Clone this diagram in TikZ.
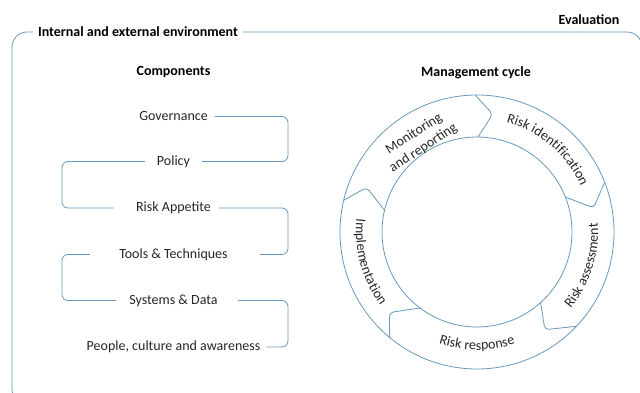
\documentclass[tikz,border=0pt]{standalone}
\usepackage{fontspec}
\setmainfont{Carlito}
\usetikzlibrary{decorations.text}
\definecolor{ringblue}{RGB}{104,152,190}
\definecolor{inktext}{RGB}{38,38,38}
\newcommand{\ringfont}{\fontsize{14}{17}\selectfont\color{inktext}}

\begin{document}
\begin{tikzpicture}[x=1pt,y=1pt,
  every node/.style={font=\fontsize{14}{17}\selectfont,text=inktext},
  item/.style={text height=10pt,text depth=3pt,inner sep=0pt},
  head/.style={font=\fontsize{14}{17}\selectfont\bfseries,text=black},
  link/.style={draw=ringblue,line width=0.8pt,rounded corners=6pt},
  ring/.style={draw=ringblue,line width=0.8pt}]

\useasboundingbox (0,0) rectangle (640,392);
\clip (0,0) rectangle (640,392);

\draw[ring,rounded corners=15pt] (12,-12) rectangle (642,360);
\node[head,fill=white,inner xsep=5pt] (env) at (138,360) {Internal and external environment};
\node[head] (eval) at (589,372) {Evaluation};

\node[head] (comp) at (173.5,320) {Components};
\node[head] (cycle) at (476,319) {Management cycle};

\node[item] (gov) at (173.5,275.5) {Governance};
\node[item] (pol) at (173.5,230.5) {Policy};
\node[item] (app) at (173.5,184) {Risk Appetite};
\node[item] (tools) at (173.5,137.5) {Tools \& Techniques};
\node[item] (sys) at (173.5,91.5) {Systems \& Data};
\node[item] (people) at (173.5,45) {People, culture and awareness};

\coordinate (turnR) at (288,0);
\coordinate (turnL) at (62,0);

\draw[link] ([xshift=7pt]gov.east) -- (gov.east -| turnR) -- (pol.east -| turnR) -- ([xshift=12pt]pol.east);
\draw[link] ([xshift=-12pt]pol.west) -- (pol.west -| turnL) -- (app.west -| turnL) -- ([xshift=-22pt]app.west);
\draw[link] ([xshift=8pt]app.east) -- (app.east -| turnR) -- (tools.east -| turnR) -- ([xshift=32pt]tools.east);
\draw[link] ([xshift=-29pt]tools.west) -- (tools.west -| turnL) -- (sys.west -| turnL) -- ([xshift=-13pt]sys.west);
\draw[link] ([xshift=20pt]sys.east) -- (sys.east -| turnR) -- (people.east -| turnR) -- ([xshift=6pt]people.east);

\begin{scope}[shift={(477,160)}]
\draw[ring] (0,0) circle (137pt);
\draw[ring] (0,0) circle (95pt);

\foreach \o/\t/\i in {90.8/82.4/89.4, 21.3/11.7/21.6, -43.5/-55.2/-48, -129.7/-137.4/-126.9, 166.6/158/166.8}
  \draw[ring,rounded corners=4pt] (\o:137) -- (\t:119) -- (\i:95);

\node[align=center,rotate=33] (mon) at (122.7:108) {Monitoring\\and reporting};

\path[decorate,decoration={text along path,text align=center,text={|\ringfont|Risk identification}}]
  (89.4:113.5) arc[start angle=89.4,end angle=9.4,radius=113.5pt];
\path[decorate,decoration={text along path,text align=center,text={|\ringfont|Risk assessment}}]
  (-57.5:121) arc[start angle=-57.5,end angle=22.5,radius=121pt];
\path[decorate,decoration={text along path,text align=center,text={|\ringfont|Risk response}}]
  (230:118) arc[start angle=230,end angle=310,radius=118pt];
\path[decorate,decoration={text along path,text align=center,text={|\ringfont|Implementation}}]
  (155.5:121) arc[start angle=155.5,end angle=235.5,radius=121pt];
\end{scope}

\end{tikzpicture}
\end{document}
